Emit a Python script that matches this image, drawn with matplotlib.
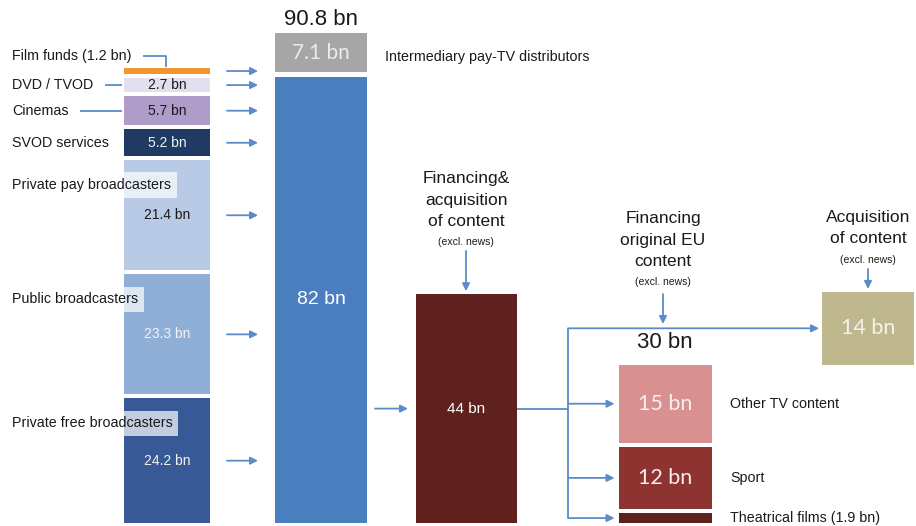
import matplotlib
matplotlib.use("Agg")
import matplotlib.pyplot as plt

plt.rcParams['font.family'] = ['Liberation Sans', 'DejaVu Sans']

# ---------------- data ----------------
source_labels = ['Private free broadcasters', 'Public broadcasters', 'Private pay broadcasters',
                 'SVOD services', 'Cinemas', 'DVD / TVOD', 'Film funds (1.2 bn)']
source_values = [24.2, 23.3, 21.4, 5.2, 5.7, 2.7, 1.2]
source_value_labels = ['24.2 bn', '23.3 bn', '21.4 bn', '5.2 bn', '5.7 bn', '2.7 bn', '']
market_total_label = '90.8 bn'
broadcaster_value = 82
distributor_value = 7.1
distributor_label = 'Intermediary pay-TV distributors'
content_value = 44
content_header = 'Financing&\nacquisition\nof content'
eu_header = 'Financing\noriginal EU\ncontent'
acq_header = 'Acquisition\nof content'
excl_label = '(excl. news)'
eu_labels = ['Theatrical films (1.9 bn)', 'Sport', 'Other TV content']
eu_values = [1.9, 12, 15]
eu_total_label = '30 bn'
acquisition_value = 14

# ---------------- styles ----------------
source_colors = ['#375A96', '#8FAFD7', '#B8CAE6', '#1F3A63', '#B09CC8', '#E3DFEE', '#F0962E']
source_text_colors = ['#F2F2F2', '#F2F2F2', '#1A1A1A', '#F2F2F2', '#1A1A1A', '#1A1A1A', '#1A1A1A']
eu_colors = ['#5E211D', '#8E3430', '#D99090']
BLUE = '#4A7EBF'
LINE = '#5B8BC9'
TXT = '#1A1A1A'
LAB_FS = 10.3

W, H, BASE = 916, 526, 523
fig = plt.figure(figsize=(W / 100, H / 100), dpi=100)


def make_ax(scale):
    a = fig.add_axes([0, 0, 1, 1])
    a.set_xlim(0, W)
    a.set_ylim(-(H - BASE) / scale, BASE / scale)
    a.axis('off')
    a.patch.set_alpha(0)
    return a


def px(v, scale):
    return BASE - v * scale


sL, sM, sR = 5.15, 5.44, 5.2
axL = make_ax(sL)
axM = make_ax(sM)
axR = make_ax(sR)
axp = fig.add_axes([0, 0, 1, 1])
axp.set_xlim(0, W)
axp.set_ylim(H, 0)
axp.axis('off')
axp.patch.set_alpha(0)
axp.set_zorder(10)


def arrow(x0, y0, x1, y1):
    axp.annotate('', xy=(x1, y1), xytext=(x0, y0),
                 arrowprops=dict(arrowstyle='-|>', color=LINE, lw=1.3,
                                 mutation_scale=11, shrinkA=0, shrinkB=0))


def line(xs, ys):
    axp.plot(xs, ys, color=LINE, lw=1.3, solid_capstyle='butt')


# ---------------- left stack ----------------
xLc, wL = 167, 86
gapL = 4 / sL
bottoms = []
b = 0
for v in source_values:
    bottoms.append(b)
    b += v + gapL
axL.bar([xLc] * len(source_values), source_values, bottom=bottoms, width=wL,
        color=source_colors, linewidth=0)

for i, (lab, v, bt) in enumerate(zip(source_labels, source_values, bottoms)):
    yc = px(bt + v / 2, sL)
    ytop = px(bt + v, sL)
    if source_value_labels[i]:
        axp.text(xLc, yc, source_value_labels[i], ha='center', va='center',
                 fontsize=10, color=source_text_colors[i])
    if i <= 2:
        axp.text(12, ytop + 25, lab, ha='left', va='center', fontsize=LAB_FS, color=TXT,
                 bbox=dict(boxstyle='square,pad=0.4', fc='white', ec='none', alpha=0.7))
    elif i == 6:
        axp.text(12, ytop - 12, lab, ha='left', va='center', fontsize=LAB_FS, color=TXT)
        line([143, 166, 166], [ytop - 12, ytop - 12, ytop - 1])
    else:
        axp.text(12, yc, lab, ha='left', va='center', fontsize=LAB_FS, color=TXT)
        if i == 5:
            line([105, 122], [yc, yc])
        if i == 4:
            line([80, 122], [yc, yc])
    arrow(227, yc, 258, yc)

# ---------------- middle column ----------------
xMc, wM = 321, 92
axM.bar([xMc], [broadcaster_value], width=wM, color=BLUE, linewidth=0)
gbot = broadcaster_value + 5 / sM
axM.bar([xMc], [distributor_value], bottom=[gbot], width=wM, color='#A6A6A6', linewidth=0)
axp.text(xMc, px(broadcaster_value / 2, sM), f'{broadcaster_value:g} bn', ha='center', va='center',
         fontsize=14, color='white')
gyc = px(gbot + distributor_value / 2, sM)
axp.text(xMc, gyc, f'{distributor_value:g} bn', ha='center', va='center',
         fontsize=15, color='#EBEBEB', family=['Lato', 'DejaVu Sans'])
axp.text(xMc, px(gbot + distributor_value, sM) - 3, market_total_label, ha='center', va='bottom',
         fontsize=16, color=TXT)
axp.text(385, gyc + 4, distributor_label, ha='left', va='center', fontsize=LAB_FS, color=TXT)

# ---------------- right part ----------------
xCc, wC = 466, 101
axR.bar([xCc], [content_value], width=wC, color='#5E211D', linewidth=0)
y44 = px(content_value / 2, sR)
axp.text(xCc, y44, f'{content_value:g} bn', ha='center', va='center', fontsize=11, color='white')
arrow(375, y44, 408, y44)

xEc, wE = 665, 93
gapR = 4 / sR
eb = []
b = 0
for v in eu_values:
    eb.append(b)
    b += v + gapR
eu_top = eb[-1] + eu_values[-1]
axR.bar([xEc] * len(eu_values), eu_values, bottom=eb, width=wE, color=eu_colors, linewidth=0)

xAc, wA = 868, 92
axR.bar([xAc], [acquisition_value], bottom=[eu_top], width=wA, color='#BFB88E', linewidth=0)
yA = px(eu_top + acquisition_value / 2, sR)
axp.text(xAc, yA, f'{acquisition_value:g} bn', ha='center', va='center', fontsize=15.5,
         color='#F4F2EA', family=['Lato', 'DejaVu Sans'])

XV = 568
line([xCc + wC / 2, XV], [y44, y44])
eu_centers = [px(bt + v / 2, sR) for bt, v in zip(eb, eu_values)]
line([XV, XV], [yA, eu_centers[0]])
arrow(XV, yA, xAc - wA / 2 - 3, yA)
for i, (lab, v, yc) in enumerate(zip(eu_labels, eu_values, eu_centers)):
    arrow(XV, yc, xEc - wE / 2 - 4, yc)
    axp.text(730, yc, lab, ha='left', va='center', fontsize=LAB_FS, color=TXT)
    if i > 0:
        axp.text(xEc, yc, f'{v:g} bn', ha='center', va='center', fontsize=15.5,
                 color='#F7EEEE', family=['Lato', 'DejaVu Sans'])

axp.text(xEc, px(eu_top, sR) - 22, eu_total_label, ha='center', va='center', fontsize=16, color=TXT)

# headers
HFS = 12.5
LS = 1.55
axp.text(xCc, 200, content_header, ha='center', va='center', fontsize=HFS, color=TXT, linespacing=LS)
axp.text(xCc, 242, excl_label, ha='center', va='center', fontsize=7.5, color=TXT)
arrow(xCc, 251, xCc, px(content_value, sR) - 3)

axp.text(xEc - 2, 240, eu_header, ha='center', va='center', fontsize=HFS, color=TXT, linespacing=LS)
axp.text(xEc - 2, 282, excl_label, ha='center', va='center', fontsize=7.5, color=TXT)
arrow(xEc - 2, 294, xEc - 2, 324)

axp.text(xAc, 228, acq_header, ha='center', va='center', fontsize=HFS, color=TXT, linespacing=LS)
axp.text(xAc, 260, excl_label, ha='center', va='center', fontsize=7.5, color=TXT)
arrow(xAc, 269, xAc, px(eu_top + acquisition_value, sR) - 3)

fig.savefig('out.png', dpi=100)
